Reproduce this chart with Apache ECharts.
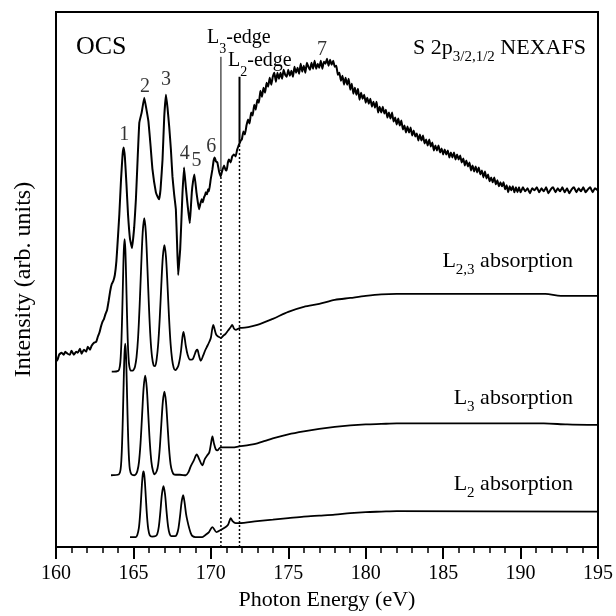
<!DOCTYPE html>
<html>
<head>
<meta charset="utf-8">
<script src="https://cdn.jsdelivr.net/npm/echarts@6/dist/echarts.min.js"></script>
<style>
  html, body { margin: 0; padding: 0; background: #fff; }
  #chart { width: 616px; height: 616px; }
</style>
</head>
<body>
<div id="chart"></div>
<script>
// photon energy (eV) vs intensity (arb. units)
const expSpectrum = [
  [160.0, 186], [160.1, 188], [160.2, 193], [160.35, 195], [160.5, 193], [160.6, 196], [160.75, 194],
  [160.9, 193], [161.0, 197], [161.15, 193], [161.3, 196], [161.4, 195], [161.55, 199], [161.65, 194],
  [161.8, 198], [161.95, 196], [162.05, 201], [162.2, 198], [162.3, 202], [162.45, 205], [162.6, 206],
  [162.7, 211], [162.8, 215], [162.9, 221], [163.0, 226], [163.1, 229], [163.2, 234], [163.3, 238],
  [163.4, 247], [163.5, 257], [163.6, 264], [163.7, 267], [163.8, 273], [163.9, 287], [163.98, 306],
  [164.09, 334], [164.2, 369], [164.3, 394], [164.37, 401], [164.45, 391], [164.55, 364], [164.65, 334],
  [164.78, 309], [164.91, 300], [165.05, 321], [165.16, 349], [165.27, 389], [165.38, 426], [165.53, 436],
  [165.7, 451], [165.82, 441], [165.97, 427], [166.1, 404], [166.23, 379], [166.45, 356], [166.58, 351],
  [166.66, 349], [166.75, 359], [166.88, 389], [166.99, 432], [167.1, 454], [167.2, 441], [167.31, 422],
  [167.42, 399], [167.52, 372], [167.63, 354], [167.74, 339], [167.82, 304], [167.89, 273], [167.96, 287],
  [168.02, 299], [168.1, 329], [168.17, 356], [168.27, 381], [168.38, 362], [168.48, 346], [168.55, 336],
  [168.64, 325], [168.71, 341], [168.77, 356], [168.85, 367], [168.94, 374], [169.07, 356], [169.16, 346],
  [169.24, 339], [169.33, 345], [169.41, 349], [169.48, 346], [169.56, 351], [169.62, 353], [169.67, 356],
  [169.75, 354], [169.82, 359], [169.88, 357], [169.99, 369], [170.1, 379], [170.18, 388], [170.25, 391],
  [170.33, 387], [170.42, 386], [170.53, 377], [170.64, 372], [170.72, 377], [170.85, 383], [170.94, 379],
  [171.02, 378], [171.1, 386], [171.17, 389], [171.28, 386], [171.38, 392], [171.49, 394], [171.6, 392],
  [171.7, 399], [171.77, 402], [171.85, 405], [171.93, 408], [172.0, 409], [172.1, 417], [172.2, 414],
  [172.3, 423], [172.4, 429], [172.5, 425], [172.6, 436], [172.7, 433], [172.8, 444], [172.9, 439],
  [173.0, 449], [173.1, 446], [173.2, 458], [173.3, 452], [173.4, 461], [173.5, 456], [173.6, 466],
  [173.7, 462], [173.8, 471], [173.9, 464], [174.0, 472], [174.1, 476], [174.2, 467], [174.3, 476],
  [174.4, 470], [174.5, 476], [174.6, 470], [174.7, 479], [174.8, 474], [174.9, 472], [175.0, 479],
  [175.1, 473], [175.2, 478], [175.3, 472], [175.4, 482], [175.5, 476], [175.6, 481], [175.7, 475],
  [175.8, 485], [175.9, 477], [176.0, 483], [176.1, 476], [176.2, 486], [176.3, 482], [176.4, 479],
  [176.5, 486], [176.6, 480], [176.7, 488], [176.8, 480], [176.9, 485], [177.0, 481], [177.1, 488],
  [177.2, 480], [177.3, 487], [177.4, 485], [177.5, 490], [177.6, 483], [177.7, 489], [177.8, 484],
  [177.9, 488], [178.0, 482], [178.1, 483], [178.2, 474], [178.3, 476], [178.4, 468], [178.5, 473],
  [178.6, 464], [178.7, 471], [178.8, 464], [178.9, 470], [179.0, 459], [179.1, 465], [179.2, 455],
  [179.3, 461], [179.4, 454], [179.5, 460], [179.6, 449], [179.7, 456], [179.8, 450], [179.9, 454],
  [180.0, 446], [180.1, 451], [180.2, 445], [180.3, 450], [180.4, 442], [180.5, 447], [180.6, 441],
  [180.7, 447], [180.8, 436], [180.9, 442], [181.0, 436], [181.1, 442], [181.2, 435], [181.3, 439],
  [181.4, 431], [181.5, 436], [181.6, 430], [181.7, 436], [181.8, 427], [181.9, 431], [182.0, 424],
  [182.1, 430], [182.2, 423], [182.3, 428], [182.4, 419], [182.5, 423], [182.6, 416], [182.7, 422],
  [182.8, 416], [182.9, 421], [183.0, 413], [183.1, 418], [183.2, 412], [183.3, 415], [183.4, 408],
  [183.5, 414], [183.6, 408], [183.7, 413], [183.8, 405], [183.9, 409], [184.0, 403], [184.1, 409],
  [184.2, 402], [184.3, 406], [184.4, 398], [184.5, 403], [184.6, 398], [184.7, 403], [184.8, 396],
  [184.9, 400], [185.0, 394], [185.1, 399], [185.2, 394], [185.3, 398], [185.4, 391], [185.5, 396],
  [185.6, 391], [185.7, 396], [185.8, 389], [185.9, 394], [186.0, 389], [186.1, 393], [186.2, 386],
  [186.3, 390], [186.4, 383], [186.5, 388], [186.6, 382], [186.7, 386], [186.8, 378], [186.9, 383],
  [187.0, 377], [187.1, 382], [187.2, 376], [187.3, 381], [187.4, 374], [187.5, 378], [187.6, 371],
  [187.7, 377], [187.8, 370], [187.9, 374], [188.0, 367], [188.1, 371], [188.2, 366], [188.3, 371],
  [188.4, 364], [188.5, 368], [188.6, 362], [188.7, 366], [188.8, 362], [188.9, 366], [189.0, 359],
  [189.1, 363], [189.2, 356], [189.3, 362], [189.4, 358], [189.5, 362], [189.6, 356], [189.7, 361],
  [189.8, 356], [189.9, 361], [190.0, 356], [190.15, 361], [190.3, 357], [190.45, 360], [190.6, 355],
  [190.75, 360], [190.9, 358], [191.05, 361], [191.2, 356], [191.35, 360], [191.5, 357], [191.65, 361],
  [191.8, 355], [191.95, 359], [192.1, 361], [192.25, 356], [192.4, 360], [192.55, 357], [192.7, 361],
  [192.85, 356], [193.0, 360], [193.15, 355], [193.3, 359], [193.45, 361], [193.6, 356], [193.75, 360],
  [193.9, 357], [194.05, 361], [194.2, 356], [194.35, 359], [194.5, 361], [194.65, 356], [194.8, 360],
  [195.0, 358]
];

const l23Spectrum = [
  [163.6, 176], [164.03, 177], [164.13, 182], [164.18, 191], [164.23, 209], [164.28, 237], [164.33, 270],
  [164.38, 298], [164.43, 309], [164.48, 298], [164.53, 270], [164.58, 237], [164.63, 209], [164.68, 191],
  [164.73, 182], [164.83, 177], [164.95, 177], [165.0, 177.5], [165.1, 181], [165.2, 190.5], [165.3, 210],
  [165.4, 242], [165.5, 281.5], [165.6, 316], [165.7, 330], [165.8, 316], [165.9, 281.5], [166.0, 242],
  [166.1, 210], [166.2, 191], [166.3, 182.5], [166.4, 181.5], [166.5, 188.5], [166.6, 204], [166.7, 230],
  [166.8, 263], [166.9, 291.5], [167.0, 303], [167.1, 291.5], [167.2, 263], [167.3, 230], [167.4, 204],
  [167.5, 188], [167.6, 180], [167.7, 177.5], [167.8, 179], [167.9, 182], [168.0, 189], [168.08, 198],
  [168.16, 210], [168.23, 216], [168.3, 211], [168.38, 202], [168.5, 193], [168.65, 188], [168.75, 188],
  [168.85, 189], [168.95, 193], [169.05, 197], [169.13, 198], [169.22, 193], [169.35, 187], [169.5, 192],
  [169.65, 198], [169.78, 202], [169.9, 206], [170.0, 210], [170.08, 218], [170.16, 223], [170.25, 218],
  [170.35, 213], [170.5, 211], [170.64, 210], [170.8, 212], [170.95, 214], [171.1, 217], [171.25, 220],
  [171.38, 223], [171.5, 219], [171.62, 218], [171.75, 219], [171.9, 220], [172.0, 220], [173.0, 223],
  [174.0, 229], [175.0, 236], [176.0, 241], [177.0, 244], [178.0, 248], [179.0, 250], [180.0, 252],
  [181.0, 253.5], [182.0, 254], [191.6, 254], [192.6, 252], [195.0, 252]
];

const l3Spectrum = [
  [163.55, 72], [164.07, 73], [164.17, 78], [164.22, 87], [164.27, 105], [164.32, 132.5], [164.37, 165],
  [164.42, 193], [164.47, 204], [164.52, 193], [164.57, 165], [164.62, 132.5], [164.67, 105], [164.72, 87],
  [164.77, 78], [164.87, 73], [165.05, 72], [165.16, 73], [165.26, 76.5], [165.36, 85.5], [165.46, 104.5],
  [165.56, 132.5], [165.66, 160], [165.76, 172], [165.86, 160], [165.96, 132.5], [166.06, 104.5],
  [166.16, 85.5], [166.26, 76.5], [166.36, 73], [166.5, 76], [166.6, 83], [166.7, 99], [166.8, 123],
  [166.9, 146], [167.0, 156], [167.1, 146], [167.2, 123], [167.3, 99], [167.4, 83], [167.5, 76],
  [167.6, 73], [167.74, 72.5], [168.0, 72.5], [168.38, 72], [168.55, 75], [168.7, 81], [168.9, 87],
  [169.09, 93], [169.25, 88], [169.45, 82], [169.6, 88], [169.77, 92], [169.9, 95], [170.0, 103],
  [170.1, 111], [170.2, 104], [170.32, 98], [170.42, 97], [170.55, 99], [170.64, 100], [171.0, 100],
  [171.4, 100], [171.82, 101], [172.5, 102.5], [173.0, 104], [173.5, 106.5], [174.0, 109], [175.0, 113],
  [176.0, 116], [177.0, 118.5], [178.0, 120.5], [179.0, 122], [180.0, 123], [181.0, 123.5], [182.0, 124],
  [191.5, 124], [193.0, 123], [195.0, 122.5]
];

const l2Spectrum = [
  [164.78, 10], [165.15, 10], [165.25, 12], [165.35, 19], [165.4, 26.5], [165.45, 37], [165.5, 50],
  [165.55, 63], [165.6, 72.5], [165.65, 76], [165.7, 72.5], [165.75, 63], [165.8, 50], [165.85, 37],
  [165.9, 26.5], [165.95, 19], [166.05, 12], [166.2, 10.5], [166.44, 11], [166.54, 13], [166.64, 20.5],
  [166.74, 35.5], [166.84, 53], [166.94, 61], [167.04, 53], [167.14, 35.5], [167.24, 20.5], [167.34, 13],
  [167.44, 11], [167.7, 11], [167.81, 13], [167.91, 19], [168.01, 31], [168.11, 45], [168.21, 52],
  [168.3, 45], [168.4, 33], [168.49, 26], [168.6, 19], [168.7, 14], [168.81, 11], [169.0, 10],
  [169.45, 10], [169.65, 12], [169.88, 15], [170.1, 20], [170.36, 15], [170.5, 16], [170.64, 17],
  [170.96, 20], [171.1, 22], [171.2, 26], [171.28, 29], [171.4, 26], [171.6, 24], [171.82, 24],
  [173.0, 26], [174.0, 27.5], [175.0, 29], [176.0, 30.5], [177.0, 31.5], [178.0, 32.5], [179.0, 34],
  [180.0, 35], [181.0, 35.5], [182.0, 36], [195.0, 35.5]
];

// ionisation edges: energy, top of the solid marker, where it meets the spectrum
const edgeEnergy = [170.65, 171.85];
const edgeTop = [492, 472];
const edgeMeet = [379, 406];

const peakLabels = ['1', '2', '3', '4', '5', '6', '7'];
const peakLabelEnergy = [164.41, 165.74, 167.1, 168.32, 169.07, 170.03, 177.18];
const peakLabelIntensity = [414, 462, 469, 395, 388, 402, 499];

const xTicks = [160, 165, 170, 175, 180, 185, 190, 195];

const FONT = '"Liberation Serif", "Times New Roman", serif';

const chart = echarts.init(document.getElementById('chart'), null, { renderer: 'canvas' });

const curve = (data, width, smooth) => ({
  type: 'line',
  data,
  showSymbol: false,
  smooth,
  silent: true,
  lineStyle: { color: '#000', width }
});

const edgeSeries = [];
edgeEnergy.forEach((e, i) => {
  edgeSeries.push({
    type: 'line', showSymbol: false, silent: true,
    data: [[e, edgeMeet[i]], [e, edgeTop[i]]],
    lineStyle: { color: '#000', width: i === 0 ? 1 : 2 }
  });
  edgeSeries.push({
    type: 'line', showSymbol: false, silent: true,
    data: [[e, 0], [e, edgeMeet[i]]],
    lineStyle: { color: '#000', width: 1.5, type: [2, 2] }
  });
});

const mainRich = (size) => ({
  a: { fontFamily: FONT, fontSize: size, color: '#000', lineHeight: 28, verticalAlign: 'top' },
  s: { fontFamily: FONT, fontSize: Math.round(size * 0.68), color: '#000', lineHeight: 28, verticalAlign: 'bottom' }
});

const label = (text, x, y, align, size) => ({
  type: 'text',
  x, y,
  silent: true,
  style: {
    text,
    align,
    verticalAlign: 'top',
    rich: mainRich(size)
  }
});

chart.setOption({
  animation: false,
  backgroundColor: '#fff',
  grid: {
    left: 56, right: 17, top: 12, bottom: 67,
    show: true, borderColor: '#000', borderWidth: 2
  },
  xAxis: {
    type: 'value',
    min: xTicks[0],
    max: xTicks[xTicks.length - 1],
    interval: 5,
    name: 'Photon Energy (eV)',
    nameLocation: 'middle',
    nameGap: 42,
    nameTextStyle: { fontFamily: FONT, fontSize: 22, color: '#000' },
    axisLine: { show: true, lineStyle: { color: '#000', width: 2 } },
    axisTick: { show: true, length: 12, lineStyle: { color: '#000', width: 2 } },
    minorTick: { show: true, splitNumber: 5, length: 6, lineStyle: { color: '#000', width: 1.5 } },
    splitLine: { show: false },
    axisLabel: { color: '#000', fontFamily: FONT, fontSize: 20, margin: 17, showMaxLabel: true }
  },
  yAxis: {
    type: 'value',
    min: 0,
    max: 537,
    name: 'Intensity (arb. units)',
    nameLocation: 'middle',
    nameGap: 20,
    nameTextStyle: { fontFamily: FONT, fontSize: 24, color: '#000' },
    axisLine: { show: true, lineStyle: { color: '#000', width: 2 } },
    axisTick: { show: false },
    axisLabel: { show: false },
    splitLine: { show: false }
  },
  series: [
    curve(expSpectrum, 2, 0.1),
    curve(l23Spectrum, 1.8, 0.3),
    curve(l3Spectrum, 1.8, 0.3),
    curve(l2Spectrum, 1.8, 0.3),
    ...edgeSeries,
    {
      type: 'scatter',
      silent: true,
      symbolSize: 1,
      itemStyle: { color: 'rgba(0,0,0,0)' },
      data: peakLabels.map((t, i) => ({ name: t, value: [peakLabelEnergy[i], peakLabelIntensity[i]] })),
      label: {
        show: true, position: 'inside', formatter: '{b}',
        fontFamily: FONT, fontSize: 20, color: '#000'
      }
    }
  ],
  graphic: [
    { type: 'text', x: 76, y: 47, silent: true,
      style: { text: 'OCS', fontFamily: FONT, fontSize: 26, fill: '#000', verticalAlign: 'middle' } },
    label('{a|S 2p}{s|3/2,1/2}{a| NEXAFS}', 413, 37, 'left', 22),
    label('{a|L}{s|3}{a|-edge}', 207, 28, 'left', 20),
    label('{a|L}{s|2}{a|-edge}', 228, 51, 'left', 20),
    label('{a|L}{s|2,3}{a| absorption}', 573, 250, 'right', 22),
    label('{a|L}{s|3}{a| absorption}', 573, 387, 'right', 22),
    label('{a|L}{s|2}{a| absorption}', 573, 473, 'right', 22)
  ]
});
</script>
</body>
</html>
